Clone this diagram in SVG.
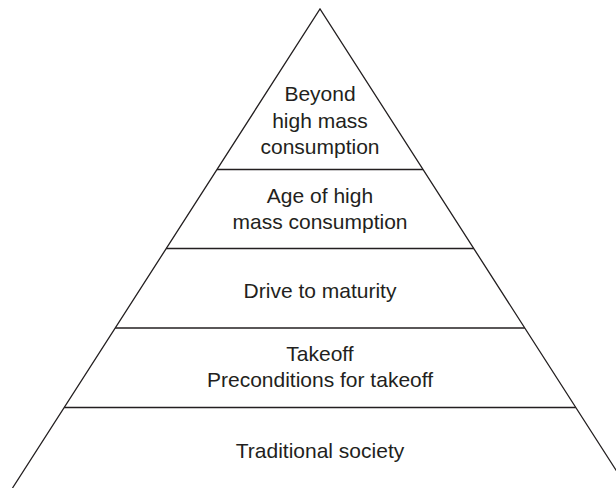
<svg xmlns="http://www.w3.org/2000/svg" width="616" height="488" viewBox="0 0 616 488">
<style>
.ln{stroke:#231f20;stroke-width:1.3;fill:none;stroke-linecap:butt}
.t{font-family:"Liberation Sans",Arial,sans-serif;font-size:21px;fill:#231f20;text-anchor:middle}
</style>
<rect width="616" height="488" fill="#ffffff"/>
<g id="outline">
<polyline class="ln" points="12.5,488 320,9 627.5,488"/>
<line class="ln" x1="217" y1="169.5" x2="423" y2="169.5"/>
<line class="ln" x1="166.2" y1="248.5" x2="473.8" y2="248.5"/>
<line class="ln" x1="115.2" y1="328" x2="524.8" y2="328"/>
<line class="ln" x1="64.2" y1="407.5" x2="575.8" y2="407.5"/>
</g>
<g id="tier-beyond">
<text class="t" x="320" y="101">Beyond</text>
<text class="t" x="320" y="127.5">high mass</text>
<text class="t" x="320" y="153.5">consumption</text>
</g>
<g id="tier-age">
<text class="t" x="320" y="202.5">Age of high</text>
<text class="t" x="320" y="228.5">mass consumption</text>
</g>
<g id="tier-drive">
<text class="t" x="320" y="297.5">Drive to maturity</text>
</g>
<g id="tier-takeoff">
<text class="t" x="320" y="361">Takeoff</text>
<text class="t" x="320" y="387">Preconditions for takeoff</text>
</g>
<g id="tier-traditional">
<text class="t" x="320" y="457.5">Traditional society</text>
</g>
</svg>
